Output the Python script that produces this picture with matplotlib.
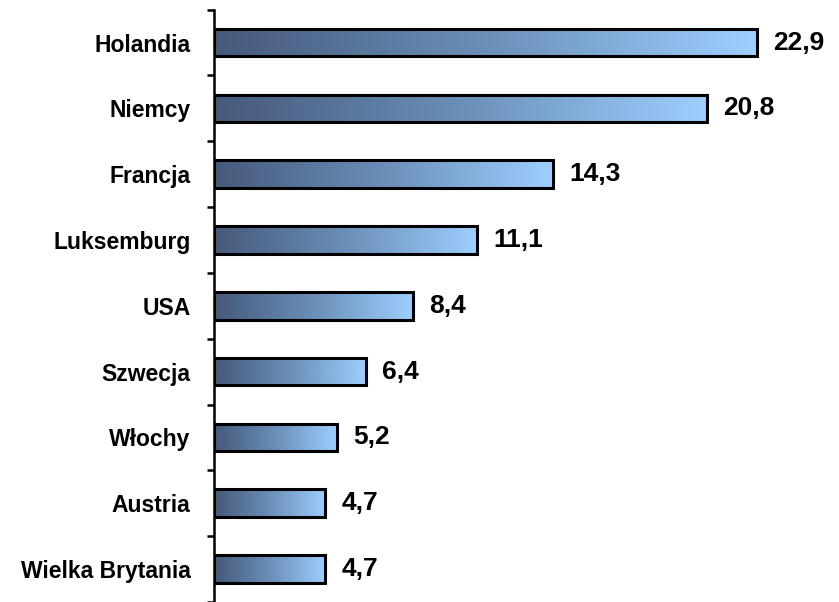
import numpy as np
import matplotlib
matplotlib.use("Agg")
import matplotlib.pyplot as plt
from matplotlib.colors import LinearSegmentedColormap
from matplotlib.patches import Rectangle

categories = ["Holandia", "Niemcy", "Francja", "Luksemburg", "USA",
              "Szwecja", "Włochy", "Austria", "Wielka Brytania"]
values = [22.9, 20.8, 14.3, 11.1, 8.4, 6.4, 5.2, 4.7, 4.7]
value_labels = ["22,9", "20,8", "14,3", "11,1", "8,4", "6,4", "5,2", "4,7", "4,7"]

plt.rcParams['font.family'] = ['Liberation Sans', 'DejaVu Sans']

fig = plt.figure(figsize=(8.39, 6.02), dpi=100)
top_px = 9.6
ax = fig.add_axes([214/839, 0.0, 1 - 214/839, (602 - top_px) / 602])

cmap = LinearSegmentedColormap.from_list("g", ["#46597a", "#6a8fb8", "#9dcfff"])
grad = np.linspace(0, 1, 256).reshape(1, -1)
n = len(categories)
ypos = np.arange(n)
h = 0.42
for y, v, lab in zip(ypos, values, value_labels):
    ax.imshow(grad, extent=(0, v, y + h/2, y - h/2), aspect='auto', cmap=cmap, zorder=2)
    ax.add_patch(Rectangle((0, y - h/2), v, h, fill=False, edgecolor='black',
                           linewidth=2.2, zorder=3))
    ax.annotate(lab, (v, y), xytext=(11.5, 0), textcoords='offset points',
                ha='left', va='center', fontsize=19, fontweight='bold')

ax.set_xlim(0, 625/23.71)
span = (602 - top_px) / 66.5
ax.set_ylim(-0.5 + span, -0.5)
ax.set_yticks(ypos)
ax.set_yticklabels(categories, fontsize=16.5, fontweight='bold')
ax.tick_params(axis='y', which='major', length=0, pad=17)
ax.set_yticks(np.arange(-0.5, n, 1), minor=True)
ax.tick_params(axis='y', which='minor', length=5, width=1.8, direction='out')
ax.set_xticks([])
for s in ['top', 'right', 'bottom']:
    ax.spines[s].set_visible(False)
ax.spines['left'].set_linewidth(1.8)

fig.savefig("out.png", dpi=100)
